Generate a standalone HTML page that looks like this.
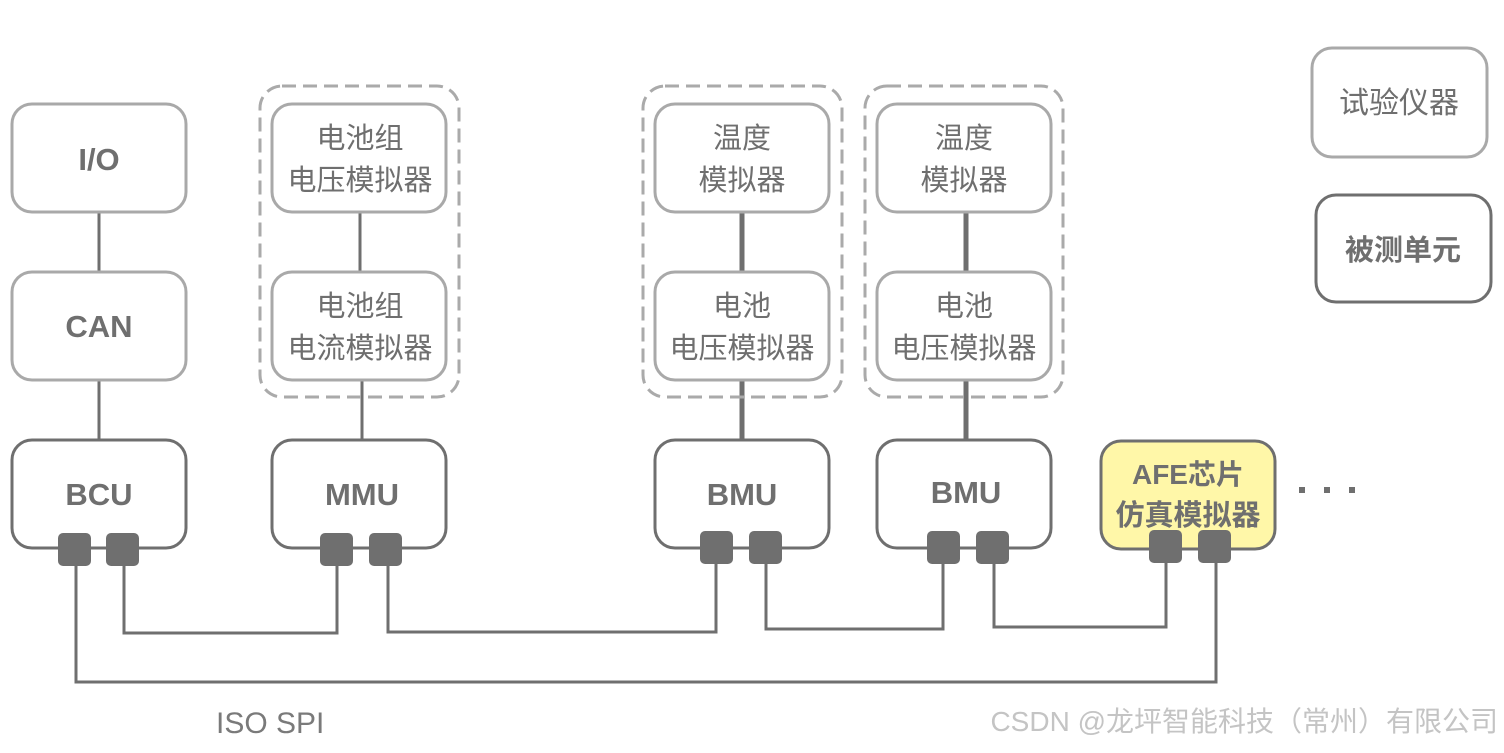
<!DOCTYPE html>
<html><head><meta charset="utf-8"><style>
body{margin:0;background:#fff;}
svg text{font-family:"Liberation Sans","Noto Sans CJK SC",sans-serif;}
</style></head><body>
<svg width="1504" height="748" viewBox="0 0 1504 748" xmlns="http://www.w3.org/2000/svg">
<g stroke="#6f6f6f" stroke-width="3" fill="none">
<line x1="99" y1="212" x2="99" y2="272"/>
<line x1="99" y1="380" x2="99" y2="440"/>
<line x1="360" y1="212" x2="360" y2="272"/>
<line x1="362" y1="380" x2="362" y2="440"/>
<line x1="742" y1="212" x2="742" y2="272" stroke-width="5"/>
<line x1="742" y1="380" x2="742" y2="440" stroke-width="5"/>
<line x1="966" y1="212" x2="966" y2="272" stroke-width="5"/>
<line x1="966" y1="380" x2="966" y2="440" stroke-width="5"/>
<polyline points="76,560 76,682 1216,682 1216,560"/>
<polyline points="124,560 124,633 337,633 337,560"/>
<polyline points="388,560 388,632 716,632 716,560"/>
<polyline points="766,560 766,629 943,629 943,560"/>
<polyline points="994,560 994,627 1166,627 1166,560"/>
</g>
<g fill="none" stroke="#aaaaaa" stroke-width="3">
<rect x="260" y="86" width="199" height="311" rx="22" stroke-dasharray="14,7"/>
<rect x="643" y="86" width="199" height="311" rx="22" stroke-dasharray="14,7"/>
<rect x="865" y="86" width="198" height="311" rx="22" stroke-dasharray="14,7"/>
</g>
<g fill="#fff" stroke="#a9a9a9" stroke-width="3">
<rect x="12" y="104" width="174" height="108" rx="20"/>
<rect x="12" y="272" width="174" height="108" rx="20"/>
<rect x="272" y="104" width="174" height="108" rx="20"/>
<rect x="272" y="272" width="174" height="108" rx="20"/>
<rect x="655" y="104" width="174" height="108" rx="20"/>
<rect x="655" y="272" width="174" height="108" rx="20"/>
<rect x="877" y="104" width="174" height="108" rx="20"/>
<rect x="877" y="272" width="174" height="108" rx="20"/>
<rect x="1312" y="48" width="175" height="109" rx="20"/>
</g>
<g fill="#fff" stroke="#6f6f6f" stroke-width="3">
<rect x="12" y="440" width="174" height="108" rx="20"/>
<rect x="272" y="440" width="174" height="108" rx="20"/>
<rect x="655" y="440" width="174" height="108" rx="20"/>
<rect x="877" y="440" width="174" height="108" rx="20"/>
<rect x="1316" y="195" width="175" height="107" rx="20"/>
<rect x="1101" y="441" width="174" height="108" rx="20" fill="#fff7a8"/>
</g>
<g fill="#6f6f6f">
<rect x="58" y="533" width="33" height="33" rx="5"/><rect x="106" y="533" width="33" height="33" rx="5"/>
<rect x="320" y="533" width="33" height="33" rx="5"/><rect x="369" y="533" width="33" height="33" rx="5"/>
<rect x="700" y="531" width="33" height="33" rx="5"/><rect x="749" y="531" width="33" height="33" rx="5"/>
<rect x="927" y="531" width="33" height="33" rx="5"/><rect x="976" y="531" width="33" height="33" rx="5"/>
<rect x="1149" y="530" width="33" height="33" rx="5"/><rect x="1198" y="530" width="33" height="33" rx="5"/>
<rect x="1299" y="487" width="6" height="6"/><rect x="1324" y="487" width="6" height="6"/><rect x="1349" y="487" width="6" height="6"/>
</g>
<g fill="#6f6f6f" font-size="31" text-anchor="middle" font-weight="bold">
<text x="99" y="170">I/O</text>
<text x="99" y="337">CAN</text>
<text x="99" y="505">BCU</text>
<text x="362" y="505">MMU</text>
<text x="742" y="505">BMU</text>
<text x="966" y="503">BMU</text>
<text x="1188" y="484" font-size="28">AFE芯片</text>
<text x="1188" y="525" font-size="29">仿真模拟器</text>
<text x="1403" y="260" font-size="29">被测单元</text>
</g>
<g fill="#6f6f6f" font-size="29" text-anchor="middle">
<text x="360" y="148">电池组</text><text x="360" y="190">电压模拟器</text>
<text x="360" y="316">电池组</text><text x="360" y="358">电流模拟器</text>
<text x="742" y="148">温度</text><text x="742" y="190">模拟器</text>
<text x="742" y="316">电池</text><text x="742" y="358">电压模拟器</text>
<text x="964" y="148">温度</text><text x="964" y="190">模拟器</text>
<text x="964" y="316">电池</text><text x="964" y="358">电压模拟器</text>
<text x="1399" y="113" font-size="30">试验仪器</text>
</g>
<text x="216" y="733" font-size="30" fill="#7a7a7a">ISO SPI</text>
<text x="1498" y="731" font-size="28" fill="#c4c4c4" text-anchor="end">CSDN @龙坪智能科技（常州）有限公司</text>
</svg>
</body></html>
